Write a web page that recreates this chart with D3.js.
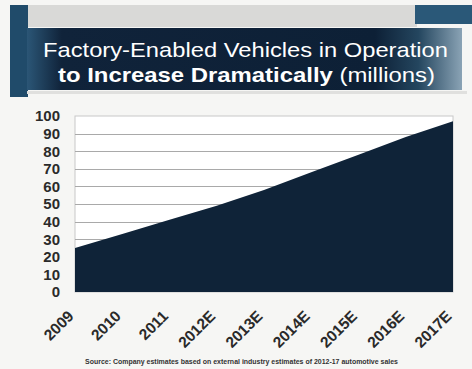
<!DOCTYPE html>
<html>
<head>
<meta charset="utf-8">
<script src="https://cdn.jsdelivr.net/npm/d3@7/dist/d3.min.js"></script>
<style>
  html, body { margin: 0; padding: 0; background: #f6f6f4; }
  svg { display: block; }
  text { font-family: "Liberation Sans", Arial, sans-serif; }
</style>
</head>
<body>
<svg id="chart" width="472" height="369"></svg>
<script>
// Vehicles in operation, millions
const years = ["2009", "2010", "2011", "2012E", "2013E", "2014E", "2015E", "2016E", "2017E"];
const vehicles = [25, 33, 41, 49, 58, 68, 78, 88, 97];
const yTicks = [0, 10, 20, 30, 40, 50, 60, 70, 80, 90, 100];

const titleLine1 = "Factory-Enabled Vehicles in Operation";
const titleBold = "to Increase Dramatically";
const titleUnit = " (millions)";
const source = "Source: Company estimates based on external industry estimates of 2012-17 automotive sales";

const svg = d3.select("#chart");
const W = 472, H = 369;
const m = { left: 75, right: 19, top: 116, bottom: 77 };

const defs = svg.append("defs");
const bannerGrad = defs.append("linearGradient").attr("id", "banner").attr("x1", 0).attr("x2", 1);
[[0, "#2b5676"], [0.08, "#10233a"], [0.8, "#0d2036"], [0.9, "#24465f"], [1, "#8aa3b5"]]
  .forEach(([o, c]) => bannerGrad.append("stop").attr("offset", o).attr("stop-color", c));

// Header decoration
svg.append("rect").attr("x", 27).attr("y", 5).attr("width", 390).attr("height", 22).attr("fill", "#d9d9d7");
svg.append("rect").attr("x", 415).attr("y", 5).attr("width", 57).attr("height", 19).attr("fill", "#2a5878");
svg.append("rect").attr("x", 10).attr("y", 5).attr("width", 18).attr("height", 92).attr("fill", "#204b6a");
svg.append("rect").attr("x", 27).attr("y", 28).attr("width", 435).attr("height", 62).attr("fill", "url(#banner)");
svg.append("rect").attr("x", 27).attr("y", 91).attr("width", 440).attr("height", 3).attr("fill", "#e0e0de");

svg.append("text")
  .attr("x", 43).attr("y", 57)
  .attr("fill", "#ffffff")
  .attr("font-size", 21)
  .attr("textLength", 405).attr("lengthAdjust", "spacingAndGlyphs")
  .text(titleLine1);

const t2 = svg.append("text")
  .attr("x", 58).attr("y", 82)
  .attr("fill", "#ffffff")
  .attr("font-size", 20.5)
  .attr("textLength", 377).attr("lengthAdjust", "spacingAndGlyphs");
t2.append("tspan").attr("font-weight", "bold").text(titleBold);
t2.append("tspan").text(titleUnit);

// Scales
const x = d3.scalePoint().domain(years).range([m.left, W - m.right]);
const y = d3.scaleLinear().domain([0, 100]).range([H - m.bottom, m.top]);

// Plot background and grid
svg.append("rect")
  .attr("x", m.left).attr("y", m.top)
  .attr("width", W - m.left - m.right).attr("height", H - m.top - m.bottom)
  .attr("fill", "#ffffff").attr("stroke", "#c8c8c8").attr("stroke-width", 1);

svg.append("g")
  .selectAll("line")
  .data(yTicks.filter(d => d > 0 && d < 100))
  .join("line")
  .attr("x1", m.left).attr("x2", W - m.right)
  .attr("y1", d => Math.round(y(d)) + 0.5).attr("y2", d => Math.round(y(d)) + 0.5)
  .attr("stroke", "#a9a9a9").attr("stroke-width", 1);

// Area
const area = d3.area()
  .x((d, i) => x(years[i]))
  .y0(y(0))
  .y1(d => y(d));

svg.append("path")
  .datum(vehicles)
  .attr("d", area)
  .attr("fill", "#0f2338");

// Y axis
const yAxis = svg.append("g")
  .attr("transform", `translate(${m.left},0)`)
  .call(d3.axisLeft(y).tickValues(yTicks).tickSize(0).tickPadding(15));
yAxis.select(".domain").remove();
yAxis.selectAll("text")
  .attr("font-size", 15).attr("font-weight", "bold").attr("fill", "#2a2a2a")
  .attr("font-family", "'Liberation Sans', Arial, sans-serif");

// X axis
const xAxis = svg.append("g")
  .attr("transform", `translate(0,${H - m.bottom})`)
  .call(d3.axisBottom(x).tickSize(0));
xAxis.select(".domain").remove();
xAxis.selectAll("text")
  .attr("font-size", 15.5).attr("font-weight", "bold").attr("fill", "#2a2a2a")
  .attr("font-family", "'Liberation Sans', Arial, sans-serif")
  .attr("text-anchor", "end")
  .attr("dy", 0)
  .attr("transform", "translate(-3,23) rotate(-45)");

// Source note
svg.append("text")
  .attr("x", 85).attr("y", 364)
  .attr("font-size", 7).attr("font-weight", "bold").attr("fill", "#333")
  .attr("textLength", 313).attr("lengthAdjust", "spacingAndGlyphs")
  .text(source);
</script>
</body>
</html>
